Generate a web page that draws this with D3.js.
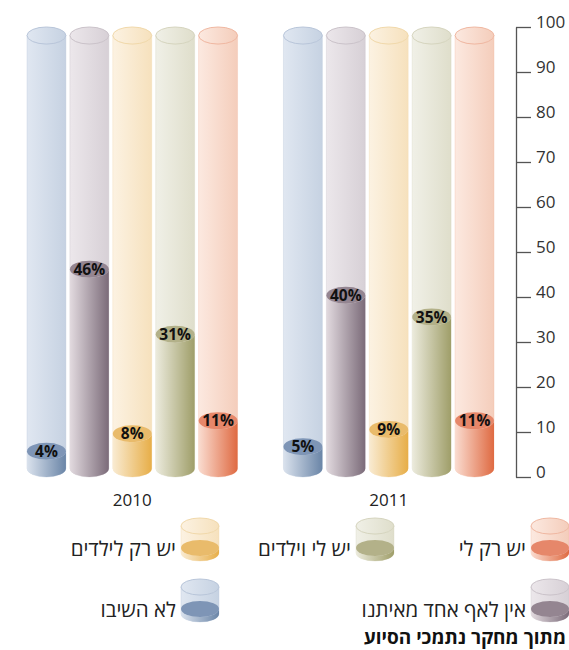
<!DOCTYPE html>
<html>
<head>
<meta charset="utf-8">
<script src="https://cdn.jsdelivr.net/npm/d3@7"></script>
<style>
  body { margin: 0; background: #fff; }
  svg { display: block; }
  text { font-family: "Open Sans", "DejaVu Sans", sans-serif; }
</style>
</head>
<body>
<svg id="chart" width="569" height="650"></svg>
<script>
// data, legend order (right to left)
var years = ["2010", "2011"];
var categories = ["יש רק לי", "יש לי וילדים", "יש רק לילדים", "אין לאף אחד מאיתנו", "לא השיבו"];
var values2010 = [11, 31, 8, 46, 4];
var values2011 = [11, 35, 9, 40, 5];
var axisTicks = [0, 10, 20, 30, 40, 50, 60, 70, 80, 90, 100];
var source = "מתוך מחקר נתמכי הסיוע";

// colours per category: container light/dark, fill light/dark, fill top, outline
var palette = [
  { c0: "#fce9e0", c1: "#f4cdbb", f0: "#fadcd0", f1: "#df6a42", top: "#e6876a", line: "#f0b8a2" },
  { c0: "#f0f0e7", c1: "#dfdecb", f0: "#ecebdd", f1: "#9f9e69", top: "#b3b189", line: "#d6d5bf" },
  { c0: "#fcf2e2", c1: "#f6e1bd", f0: "#f9ebd2", f1: "#e7ae48", top: "#e9bb6b", line: "#f1d9ab" },
  { c0: "#ece7eb", c1: "#d7d0d6", f0: "#e2dadf", f1: "#7b6b79", top: "#948591", line: "#cbc3ca" },
  { c0: "#e0e7f1", c1: "#c6d2e2", f0: "#dae2ed", f1: "#6a85a7", top: "#7e95b6", line: "#b9c6da" }
];
// legend slots (column from the right)
var legendCols = [0, 1, 2, 0, 2];

var rows = years.map(function (y, i) {
  var vals = i === 0 ? values2010 : values2011;
  return { year: y, items: categories.map(function (c, k) { return { cat: c, idx: k, value: vals[k] }; }) };
});

var svg = d3.select("#chart");
var defs = svg.append("defs");

palette.forEach(function (p, i) {
  [["light" + i, p.c0, p.c1], ["dark" + i, p.f0, p.f1]].forEach(function (g) {
    var lg = defs.append("linearGradient").attr("id", g[0])
      .attr("x1", 0).attr("x2", 1).attr("y1", 0).attr("y2", 0);
    lg.append("stop").attr("offset", "0%").attr("stop-color", g[1]);
    lg.append("stop").attr("offset", "100%").attr("stop-color", g[2]);
  });
});

// scales
var y = d3.scaleLinear().domain([0, 100]).range([477, 27]);
var ry = 8.5;
var level = d3.scaleLinear().domain([0, 100]).range([y(0) - ry, y(100) + ry]);

var x0 = d3.scaleBand().domain(years).range([27, 494]).paddingInner(0.179);
var barOrder = categories.slice().reverse();
var x1 = d3.scaleBand().domain(barOrder).range([0, x0.bandwidth()]).paddingInner(0.093);
var rx = x1.bandwidth() / 2;

function bodyPath(cx, rx, ry, yTop, yBot) {
  return "M" + (cx - rx) + "," + yTop +
    "L" + (cx - rx) + "," + yBot +
    "A" + rx + "," + ry + " 0 0 0 " + (cx + rx) + "," + yBot +
    "L" + (cx + rx) + "," + yTop +
    "A" + rx + "," + ry + " 0 0 1 " + (cx - rx) + "," + yTop + "Z";
}

function cylinder(g, cx, rx, ry, yTop, yBot, fillTop, i) {
  var p = palette[i];
  g.append("path").attr("d", bodyPath(cx, rx, ry, yTop, yBot))
    .attr("fill", "url(#light" + i + ")")
    .attr("stroke", p.line).attr("stroke-opacity", 0.45).attr("stroke-width", 0.8);
  g.append("ellipse").attr("cx", cx).attr("cy", yTop).attr("rx", rx).attr("ry", ry)
    .attr("fill", "url(#light" + i + ")")
    .attr("stroke", p.line).attr("stroke-width", 1);
  g.append("path").attr("d", bodyPath(cx, rx, ry, fillTop, yBot))
    .attr("fill", "url(#dark" + i + ")");
  g.append("ellipse").attr("cx", cx).attr("cy", fillTop).attr("rx", rx).attr("ry", ry)
    .attr("fill", p.top);
}

// bars
var groups = svg.selectAll("g.year").data(rows).join("g")
  .attr("class", "year")
  .attr("transform", function (d) { return "translate(" + x0(d.year) + ",0)"; });

groups.each(function (d) {
  var g = d3.select(this);
  d.items.forEach(function (it) {
    var cx = x1(it.cat) + rx;
    var cg = g.append("g");
    cylinder(cg, cx, rx, ry, y(100) + ry, y(0) - ry, level(it.value), it.idx);
    cg.append("text")
      .attr("x", cx).attr("y", level(it.value))
      .attr("dy", "0.36em")
      .attr("text-anchor", "middle")
      .attr("font-size", 15.5).attr("font-weight", 700)
      .attr("fill", "#111")
      .text(it.value + "%");
  });
  g.append("text")
    .attr("x", x0.bandwidth() / 2).attr("y", 506)
    .attr("text-anchor", "middle")
    .attr("font-size", 17).attr("fill", "#222")
    .text(d.year);
});

// axis
var axis = svg.append("g")
  .attr("transform", "translate(516,0)")
  .call(d3.axisRight(y).tickValues(axisTicks).tickSize(15).tickSizeOuter(0).tickPadding(5));
axis.select(".domain").attr("stroke", "#555").attr("stroke-width", 1.3);
axis.selectAll(".tick line").attr("stroke", "#555").attr("stroke-width", 1.3);
axis.selectAll(".tick text")
  .attr("dy", "0.05em")
  .attr("font-size", 17).attr("font-family", null)
  .attr("fill", "#333");

// legend
var legCol = d3.scalePoint().domain([0, 1, 2]).range([550, 200]);
var legRow = d3.scalePoint().domain([0, 1]).range([0, 61]);
var legend = svg.append("g").attr("class", "legend");
categories.forEach(function (c, i) {
  var cx = legCol(legendCols[i]), oy = legRow(Math.floor(i / 3));
  var lg = legend.append("g");
  cylinder(lg, cx, 19, 8, 526 + oy, 553 + oy, 548 + oy, i);
  lg.append("text")
    .attr("x", cx - 24).attr("y", 556 + oy)
    .attr("text-anchor", "end")
    .attr("font-size", 20.5).attr("fill", "#222")
    .text(c);
});

svg.append("text")
  .attr("x", 566).attr("y", 644)
  .attr("text-anchor", "end")
  .attr("font-size", 19).attr("font-weight", 700)
  .attr("fill", "#111")
  .text(source);
</script>
</body>
</html>
